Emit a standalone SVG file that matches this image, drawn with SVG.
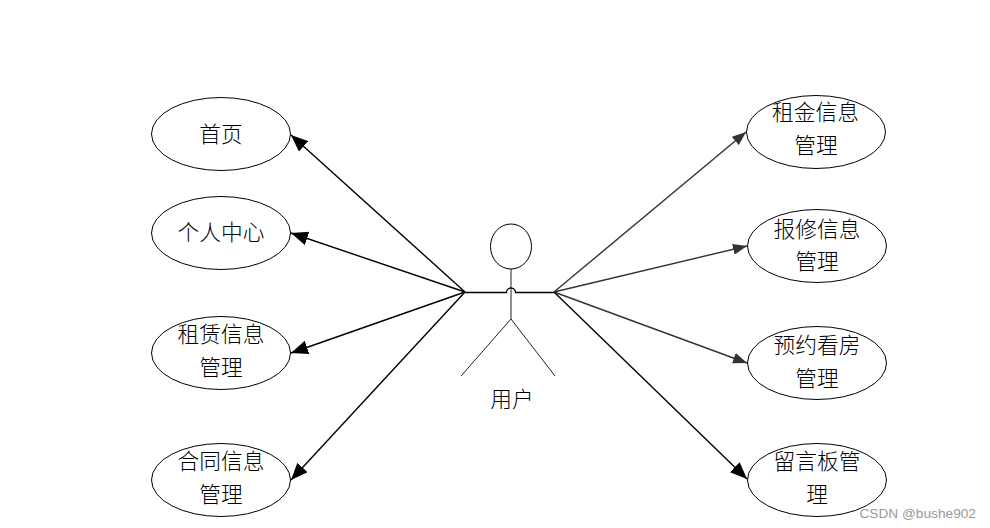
<svg xmlns="http://www.w3.org/2000/svg" width="990" height="528" viewBox="0 0 990 528">
<style>
.n{fill:#fff;stroke:#000;stroke-width:1}
.t{font-family:"Noto Sans CJK SC","Noto Sans CJK JP",sans-serif;font-size:21.700px;font-weight:300;fill:#000;text-anchor:middle}
.c{fill:none;stroke:#000;stroke-width:1.4}
.g{fill:none;stroke:#333;stroke-width:1.4}
.s{fill:none;stroke:#222;stroke-width:1}
.a{fill:none;stroke:#000;stroke-width:1.300}
</style>
<defs>
<marker id="big" markerUnits="userSpaceOnUse" markerWidth="18" markerHeight="14" refX="17" refY="7" orient="auto"><path d="M0 0L17 7L0 14Z" fill="#000"/></marker>
<marker id="small" markerUnits="userSpaceOnUse" markerWidth="15" markerHeight="11" refX="14" refY="5.500" orient="auto"><path d="M0 0L14 5.500L0 11Z" fill="#333"/></marker>
</defs>
<rect width="990" height="528" fill="#fff"/>
<g id="connectors">
<line class="c" x1="465" y1="292" x2="291" y2="135" marker-end="url(#big)"/>
<line class="c" x1="465" y1="292" x2="291" y2="233" marker-end="url(#big)"/>
<line class="c" x1="465" y1="292" x2="291" y2="353" marker-end="url(#big)"/>
<line class="c" x1="465" y1="292" x2="291" y2="480" marker-end="url(#big)"/>
<line class="g" x1="554" y1="292" x2="746" y2="132" marker-end="url(#small)"/>
<line class="g" x1="554" y1="292" x2="747" y2="246" marker-end="url(#small)"/>
<line class="g" x1="554" y1="292" x2="747" y2="363" marker-end="url(#small)"/>
<line class="c" x1="554" y1="292" x2="747" y2="479" marker-end="url(#big)"/>
</g>
<g id="actor">
<ellipse class="n" cx="511" cy="246.500" rx="20.500" ry="22.500"/>
<path class="a" d="M465 292.500H506.500A4.500 4.500 0 0 1 515.500 292.500H554"/>
<path class="s" d="M511 269V319L461 376M511 319L555 376"/>
<text class="t" x="512" y="407">用户</text>
</g>
<g id="n1"><ellipse class="n" cx="221" cy="134" rx="69.500" ry="36.500"/><text class="t" x="221" y="142">首页</text></g>
<g id="n2"><ellipse class="n" cx="221" cy="233" rx="69.500" ry="36.500"/><text class="t" x="221" y="240">个人中心</text></g>
<g id="n3"><ellipse class="n" cx="221" cy="353" rx="69.500" ry="36.500"/><text class="t" x="221" y="342">租赁信息</text><text class="t" x="221" y="375">管理</text></g>
<g id="n4"><ellipse class="n" cx="221" cy="480" rx="69.500" ry="36.500"/><text class="t" x="221" y="469">合同信息</text><text class="t" x="221" y="502">管理</text></g>
<g id="n5"><ellipse class="n" cx="816" cy="132" rx="69.500" ry="36.500"/><text class="t" x="815.500" y="120">租金信息</text><text class="t" x="816" y="153">管理</text></g>
<g id="n6"><ellipse class="n" cx="817" cy="246" rx="69.500" ry="36.500"/><text class="t" x="817" y="237">报修信息</text><text class="t" x="817" y="269">管理</text></g>
<g id="n7"><ellipse class="n" cx="817" cy="363" rx="69.500" ry="36.500"/><text class="t" x="817" y="353">预约看房</text><text class="t" x="817" y="386">管理</text></g>
<g id="n8"><ellipse class="n" cx="817" cy="480" rx="69.500" ry="36.500"/><text class="t" x="817" y="469">留言板管</text><text class="t" x="817" y="502">理</text></g>
<text x="976" y="518" text-anchor="end" font-family="'Liberation Sans',Arial,sans-serif" font-size="13.700" fill="#999">CSDN @bushe902</text>
</svg>
